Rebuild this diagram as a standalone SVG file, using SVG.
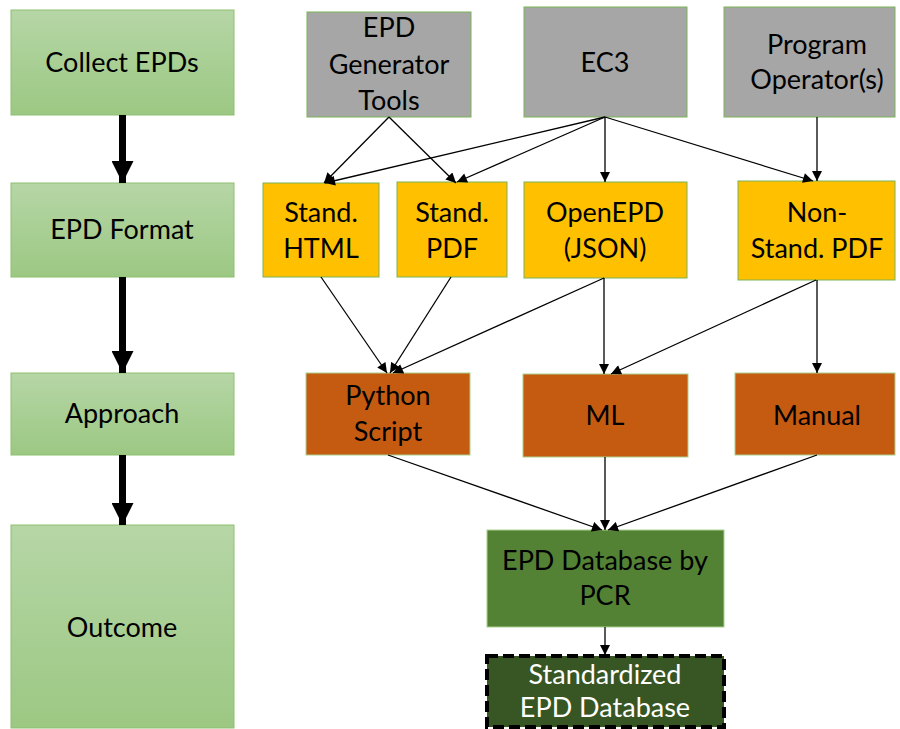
<svg xmlns="http://www.w3.org/2000/svg" width="900" height="729" viewBox="0 0 900 729">
<defs>
<linearGradient id="gg" x1="0" y1="0" x2="0" y2="1">
<stop offset="0" stop-color="#b6d6a6"/>
<stop offset="1" stop-color="#9cc883"/>
</linearGradient>
<marker id="ah" viewBox="0 0 10 10" refX="10" refY="5" markerWidth="11" markerHeight="10" markerUnits="userSpaceOnUse" orient="auto">
<path d="M0,0 L10,5 L0,10 z" fill="#000"/>
</marker>
<marker id="big" viewBox="0 0 10 10" refX="10" refY="5" markerWidth="22" markerHeight="22" markerUnits="userSpaceOnUse" orient="auto">
<path d="M0,0 L10,5 L0,10 z" fill="#000"/>
</marker>
</defs>
<style>
text{font-family:Lato,"Open Sans","Liberation Sans",sans-serif;font-size:27px;fill:#000;text-anchor:middle}
.stage{fill:url(#gg);stroke:#8dc070;stroke-width:1}
.src{fill:#a6a6a6;stroke:#7ab356;stroke-width:1}
.fmt{fill:#ffc000;stroke:#7ab356;stroke-width:1}
.app{fill:#c55a11;stroke:#a9d18e;stroke-width:1}
.db{fill:#548235;stroke:#a9d18e;stroke-width:1}
.std{fill:#375623;stroke:#000;stroke-width:4;stroke-dasharray:11,5}
.w{fill:#fff}
.c{stroke:#000;stroke-width:1.3;fill:none;marker-end:url(#ah)}
.t{stroke:#000;stroke-width:7;fill:none;marker-end:url(#big)}
</style>
<g id="n-collect"><rect class="stage" x="11" y="10" width="223" height="105"/><text x="122" y="72">Collect EPDs</text></g>
<g id="n-format"><rect class="stage" x="11" y="183" width="223" height="94"/><text x="122" y="239">EPD Format</text></g>
<g id="n-approach"><rect class="stage" x="11" y="373" width="223" height="82"/><text x="122" y="423">Approach</text></g>
<g id="n-outcome"><rect class="stage" x="11" y="525" width="223" height="203"/><text x="122" y="637">Outcome</text></g>

<g id="n-gen"><rect class="src" x="307" y="12" width="164" height="105"/><text x="389" y="37">EPD</text><text x="389" y="74">Generator</text><text x="389" y="110">Tools</text></g>
<g id="n-ec3"><rect class="src" x="524" y="7" width="163" height="110"/><text x="605" y="72">EC3</text></g>
<g id="n-po"><rect class="src" x="724" y="7" width="171" height="110"/><text x="817" y="54">Program</text><text x="817" y="89">Operator(s)</text></g>

<g id="n-shtml"><rect class="fmt" x="263" y="183" width="116" height="94"/><text x="321" y="222">Stand.</text><text x="321" y="258">HTML</text></g>
<g id="n-spdf"><rect class="fmt" x="397" y="182" width="110" height="95"/><text x="452" y="222">Stand.</text><text x="452" y="258">PDF</text></g>
<g id="n-openepd"><rect class="fmt" x="524" y="182" width="163" height="96"/><text x="605" y="222">OpenEPD</text><text x="605" y="258">(JSON)</text></g>
<g id="n-nspdf"><rect class="fmt" x="738" y="181" width="157" height="99"/><text x="817" y="222">Non-</text><text x="817" y="258">Stand. PDF</text></g>

<g id="n-python"><rect class="app" x="306" y="373" width="164" height="82"/><text x="388" y="405">Python</text><text x="388" y="441">Script</text></g>
<g id="n-ml"><rect class="app" x="523" y="374" width="165" height="83"/><text x="605" y="425">ML</text></g>
<g id="n-manual"><rect class="app" x="735" y="373" width="160" height="82"/><text x="817" y="425">Manual</text></g>

<g id="n-dbpcr"><rect class="db" x="487" y="530" width="237" height="97"/><text x="605" y="570">EPD Database by</text><text x="605" y="605">PCR</text></g>
<g id="n-std"><rect class="std" x="487" y="656" width="237" height="71"/><text class="w" x="605" y="684">Standardized</text><text class="w" x="605" y="717">EPD Database</text></g>

<g id="connectors">
<line class="t" x1="122.5" y1="115" x2="122.5" y2="183"/>
<line class="t" x1="122.5" y1="277" x2="122.5" y2="373"/>
<line class="t" x1="122.5" y1="455" x2="122.5" y2="525"/>

<line class="c" x1="389" y1="117" x2="324" y2="183"/>
<line class="c" x1="389" y1="117" x2="456" y2="183"/>
<line class="c" x1="605" y1="117" x2="325" y2="183"/>
<line class="c" x1="605" y1="117" x2="457" y2="182"/>
<line class="c" x1="605" y1="117" x2="605" y2="182"/>
<line class="c" x1="605" y1="117" x2="813" y2="181"/>
<line class="c" x1="817" y1="117" x2="817" y2="181"/>

<line class="c" x1="321" y1="277" x2="387" y2="373"/>
<line class="c" x1="451" y1="277" x2="390" y2="373"/>
<line class="c" x1="604" y1="278" x2="393" y2="373"/>
<line class="c" x1="604" y1="278" x2="604" y2="374"/>
<line class="c" x1="816" y1="280" x2="611" y2="374"/>
<line class="c" x1="817" y1="280" x2="817" y2="373"/>

<line class="c" x1="388" y1="455" x2="602" y2="530"/>
<line class="c" x1="605" y1="457" x2="605" y2="530"/>
<line class="c" x1="817" y1="455" x2="608" y2="530"/>
<line class="c" x1="605" y1="627" x2="605" y2="655"/>
</g>
</svg>
